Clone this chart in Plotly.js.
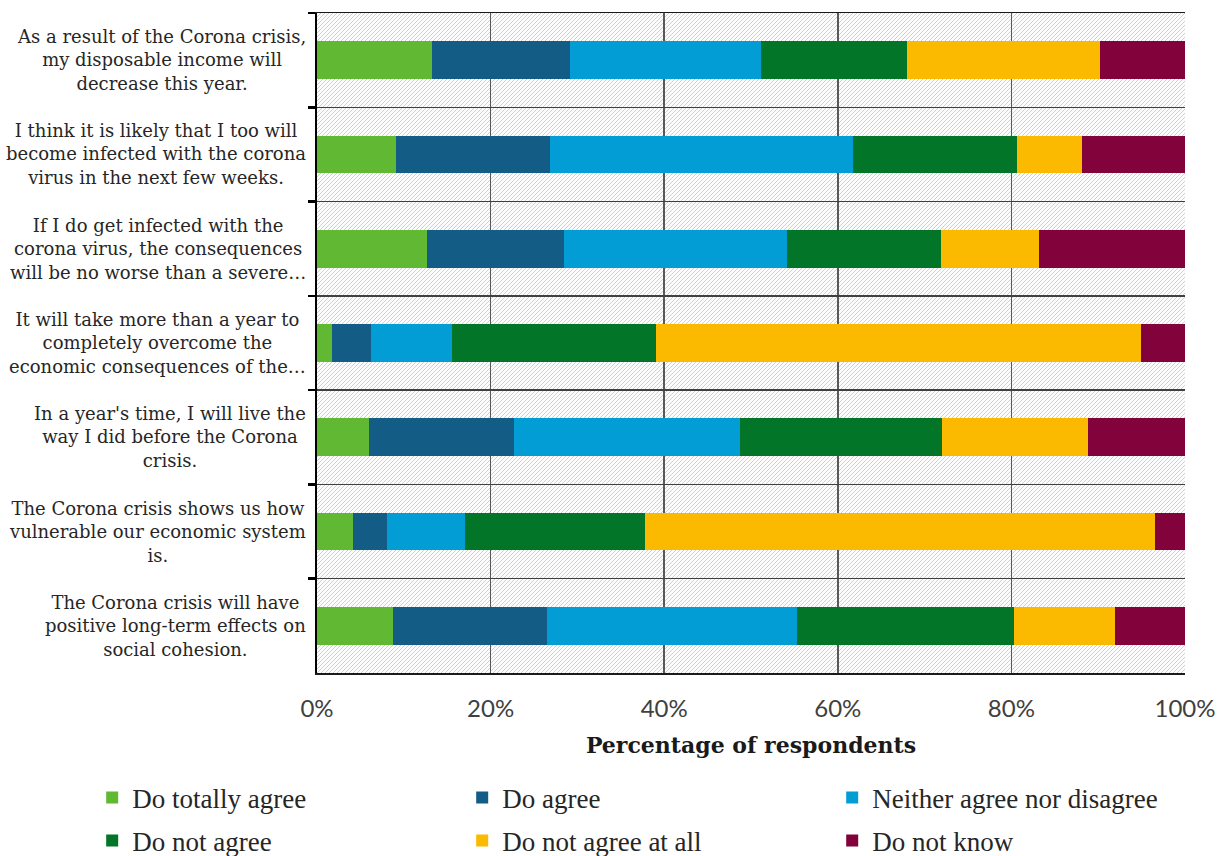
<!DOCTYPE html>
<html>
<head>
<meta charset="utf-8">
<script src="https://cdn.plot.ly/plotly-3.0.1.min.js"></script>
<style>
  html, body { margin: 0; padding: 0; background: #ffffff; }
  #wrap { position: relative; width: 1231px; height: 856px; }
  #hatch {
    position: absolute; left: 317px; top: 13px; width: 868px; height: 660px;
    background-color: #fcfcfc;
    background-image: url("data:image/svg+xml;utf8,<svg xmlns='http://www.w3.org/2000/svg' width='4' height='4'><path d='M-1,1 l2,-2 M0,4 l4,-4 M3,5 l2,-2' stroke='%23d0d0d0' stroke-width='1'/></svg>");
  }
  #chart { position: absolute; left: 0; top: 0; width: 1231px; height: 856px; }
</style>
</head>
<body>
<div id="wrap">
  <div id="hatch"></div>
  <div id="chart"></div>
</div>
<script>
// Categories (statements), top to bottom
const categories = [
  "As a result of the Corona crisis,<br>my disposable income will<br>decrease this year.",
  "I think it is likely that I too will<br>become infected with the corona<br>virus in the next few weeks.",
  "If I do get infected with the<br>corona virus, the consequences<br>will be no worse than a severe…",
  "It will take more than a year to<br>completely overcome the<br>economic consequences of the…",
  "In a year's time, I will live the<br>way I did before the Corona<br>crisis.",
  "The Corona crisis shows us how<br>vulnerable our economic system<br>is.",
  "The Corona crisis will have<br>positive long-term effects on<br>social cohesion."
];

// Series names
const seriesNames = [
  "Do totally agree",
  "Do agree",
  "Neither agree nor disagree",
  "Do not agree",
  "Do not agree at all",
  "Do not know"
];

// Values (percentage of respondents), one per category
const doTotallyAgree = [13.3, 9.1, 12.7, 1.7, 6.0, 4.1, 8.7];
const doAgree        = [15.8, 17.7, 15.8, 4.5, 16.7, 4.0, 17.8];
const neither        = [22.0, 34.9, 25.6, 9.4, 26.0, 9.0, 28.8];
const doNotAgree     = [16.9, 18.9, 17.8, 23.5, 23.3, 20.7, 25.0];
const doNotAgreeAtAll= [22.2, 7.5, 11.3, 55.8, 16.8, 58.8, 11.6];
const doNotKnow      = [9.8, 11.9, 16.8, 5.1, 11.2, 3.4, 8.1];

// X tick labels
const xTickVals = [0, 20, 40, 60, 80, 100];
const xTickText = ["0%", "20%", "40%", "60%", "80%", "100%"];

const seriesValues = [doTotallyAgree, doAgree, neither, doNotAgree, doNotAgreeAtAll, doNotKnow];
const colors = ["#61B832", "#135C85", "#039DD6", "#037529", "#FBBA00", "#82033B"];

const traces = seriesNames.map((name, i) => ({
  type: "bar",
  orientation: "h",
  name: name,
  x: seriesValues[i],
  y: categories,
  legend: i < 3 ? "legend" : "legend2",
  marker: { color: colors[i], line: { width: 0 } },
  hoverinfo: "x+name"
}));

const annotations = categories.map(c => ({
  xref: "paper", yref: "y",
  x: 0, y: c,
  xanchor: "right", yanchor: "middle",
  xshift: -9,
  align: "center",
  showarrow: false,
  text: c,
  font: { family: "DejaVu Serif", size: 18, color: "#262626" }
}));

const legendCommon = {
  orientation: "h",
  x: -0.259, xanchor: "left",
  yanchor: "middle",
  traceorder: "normal",
  entrywidth: 325,
  entrywidthmode: "pixels",
  itemwidth: 30,
  font: { family: "Liberation Serif", size: 27, color: "#262626" },
  bgcolor: "rgba(0,0,0,0)"
};

const layout = {
  width: 1231, height: 856,
  margin: { l: 317, r: 46, t: 13, b: 183, autoexpand: false },
  paper_bgcolor: "rgba(0,0,0,0)",
  plot_bgcolor: "rgba(0,0,0,0)",
  barmode: "stack",
  bargap: 0.6,
  showlegend: true,
  xaxis: {
    range: [0, 100],
    tickvals: xTickVals,
    ticktext: xTickText,
    showgrid: true,
    gridcolor: "#595959",
    gridwidth: 1.5,
    zeroline: false,
    showline: true,
    linecolor: "#1a1a1a",
    linewidth: 1.5,
    mirror: true,
    ticks: "",
    ticklabelstandoff: 14,
    tickfont: { family: "Lato", size: 24, color: "#404040" },
    title: {
      text: "<b>Percentage of respondents</b>",
      font: { family: "DejaVu Serif", size: 22, color: "#1a1a1a" },
      standoff: 16
    },
    automargin: false,
    fixedrange: true
  },
  yaxis: {
    type: "category",
    autorange: "reversed",
    tickson: "boundaries",
    showgrid: true,
    gridcolor: "#404040",
    gridwidth: 1.5,
    showline: true,
    linecolor: "#000000",
    linewidth: 2.5,
    ticks: "outside",
    ticklen: 7,
    tickwidth: 2.5,
    tickcolor: "#000000",
    showticklabels: false,
    automargin: false,
    fixedrange: true
  },
  legend: Object.assign({}, legendCommon, { y: -0.1894 }),
  legend2: Object.assign({}, legendCommon, { y: -0.2545 }),
  annotations: annotations
};

Plotly.newPlot("chart", traces, layout, { displayModeBar: false, staticPlot: true });
</script>
</body>
</html>
